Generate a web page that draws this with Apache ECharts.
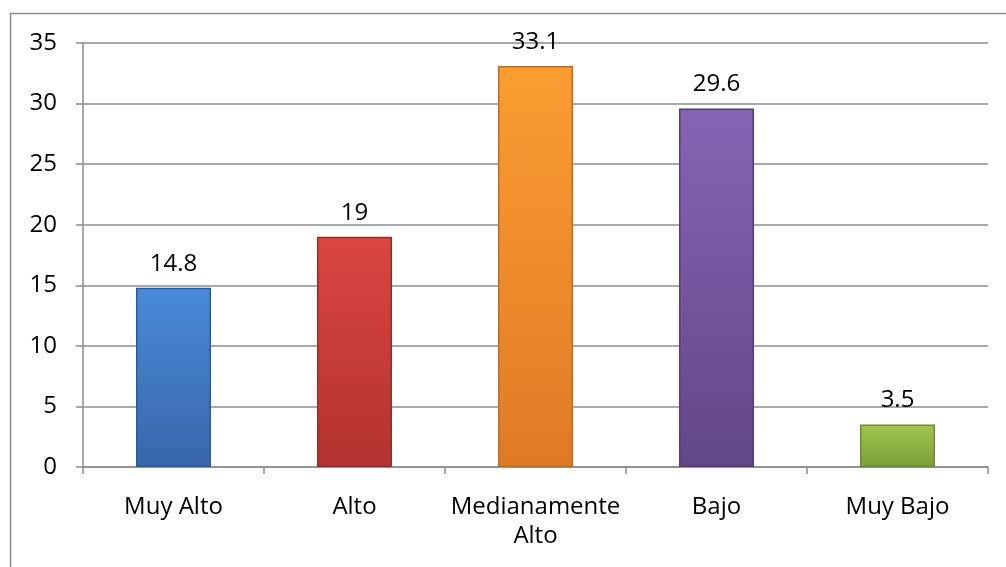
<!DOCTYPE html>
<html>
<head>
<meta charset="utf-8">
<script src="https://cdn.jsdelivr.net/npm/echarts@6/dist/echarts.min.js"></script>
<style>
html,body{margin:0;padding:0;background:#fff;}
#chart{width:1006px;height:567px;}
</style>
</head>
<body>
<div id="chart"></div>
<script>
var categories = ['Muy Alto', 'Alto', 'Medianamente\nAlto', 'Bajo', 'Muy Bajo'];
var values = [14.8, 19, 33.1, 29.6, 3.5];
var topColors = ['#4a8ad8', '#db4642', '#fc9d32', '#8664b4', '#a0c64e'];
var bottomColors = ['#3867aa', '#b3322f', '#df7a25', '#624786', '#7c9e38'];
var edgeColors = ['#2f5b96', '#9c2b28', '#c96a1d', '#553d77', '#6d8c2f'];

var chart = echarts.init(document.getElementById('chart'));
var font = '"Open Sans", "Liberation Sans", sans-serif';

var dataItems = values.map(function (v, i) {
  return {
    value: v,
    itemStyle: {
      color: new echarts.graphic.LinearGradient(0, 0, 0, 1, [
        {offset: 0, color: topColors[i]},
        {offset: 1, color: bottomColors[i]}
      ]),
      borderColor: edgeColors[i],
      borderWidth: 1.5
    }
  };
});

chart.setOption({
  backgroundColor: '#ffffff',
  animation: false,
  graphic: [{
    type: 'rect',
    shape: {x: 10.5, y: 13.5, width: 1010, height: 570},
    style: {fill: 'none', stroke: '#8c8c8c', lineWidth: 1.5},
    z: 0
  }],
  grid: {left: 83, right: 18, top: 43, bottom: 100, containLabel: false},
  xAxis: {
    type: 'category',
    data: categories,
    axisLine: {show: true, lineStyle: {color: '#8c8c8c', width: 1.5}},
    axisTick: {show: true, length: 7, alignWithLabel: false, lineStyle: {color: '#8c8c8c', width: 1.5}},
    axisLabel: {color: '#000', fontFamily: font, fontSize: 24, margin: 26, lineHeight: 29, interval: 0}
  },
  yAxis: {
    type: 'value',
    min: 0,
    max: 35,
    interval: 5,
    axisLine: {show: true, lineStyle: {color: '#8c8c8c', width: 1.5}},
    axisTick: {show: true, length: 7, lineStyle: {color: '#8c8c8c', width: 1.5}},
    axisLabel: {color: '#000', fontFamily: font, fontSize: 24, margin: 26},
    splitLine: {show: true, lineStyle: {color: '#8c8c8c', width: 1.5}}
  },
  series: [{
    type: 'bar',
    data: dataItems,
    barWidth: 75,
    label: {
      show: true,
      position: 'top',
      distance: 12,
      color: '#000',
      fontFamily: font,
      fontSize: 24
    }
  }]
});
</script>
</body>
</html>
